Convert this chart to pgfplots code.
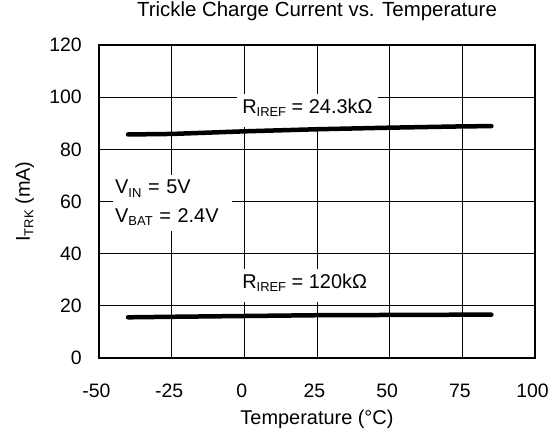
\documentclass[border=0pt]{standalone}
\usepackage{fontspec}
\setmainfont{Liberation Sans}
\usepackage{pgfplots}
\pgfplotsset{compat=1.18}
\newcommand{\sub}[1]{\raisebox{-3.3bp}{\fontsize{13}{13}\selectfont #1}}
\begin{document}
\begin{tikzpicture}
\path[use as bounding box] (-99bp,-72bp) rectangle (459bp,358bp);
\begin{axis}[
  at={(0,0)}, anchor=south west,
  scale only axis, width=436bp, height=313bp,
  xmin=-50, xmax=100, ymin=0, ymax=120,
  xtick={-50,-25,0,25,50,75,100}, ytick={0,20,40,60,80,100,120},
  major tick length=0pt,
  grid=major, major grid style={black, line width=1bp},
  axis line style={black, line width=2bp},
  /pgf/number format/assume math mode=true,
  xticklabel style={font=\fontsize{19.5}{20}\selectfont, anchor=base, yshift=-39.5bp, xshift=-2.5bp},
  yticklabel style={font=\fontsize{19.5}{20}\selectfont, anchor=east, inner sep=0pt, xshift=-17bp},
  every axis title shift=0pt,
  title={Trickle Charge Current vs. Temperature},
  title style={font=\fontsize{20.5}{22}\selectfont, at={(axis description cs:0.5,1.0904)}, anchor=base},
  xlabel={Temperature (°C)},
  xlabel style={font=\fontsize{20}{22}\selectfont, at={(axis description cs:0.5,-0.2109)}, anchor=base},
  ylabel={I\sub{TRK} (mA)},
  ylabel style={font=\fontsize{20}{22}\selectfont, at={(axis description cs:-0.1583,0.5)}, anchor=base},
]
\node[fill=white, anchor=base west, inner xsep=5bp, inner ysep=4bp, text height=15bp, text depth=9.5bp, font=\fontsize{20}{22}\selectfont] at (axis cs:-2.5,93.9) {R\sub{IREF} = 24.3kΩ};
\node[fill=white, anchor=base west, inner xsep=5bp, inner ysep=4bp, text height=15bp, text depth=9.5bp, font=\fontsize{20}{22}\selectfont] at (axis cs:-2.5,26.7) {R\sub{IREF} = 120kΩ};
\node[fill=white, anchor=north west, align=left, text width=115bp, inner xsep=2bp, inner ysep=5bp, font=\fontsize{20}{29}\selectfont] at (axis cs:-45.2,70.2) {V\sub{IN} = 5V\\V\sub{BAT} = 2.4V};
\addplot[black, line width=4.5bp, line cap=round, line join=round] coordinates {(-40,85.7)(-25,85.9)(0,86.9)(25,87.7)(50,88.3)(75,88.8)(85,88.9)};
\addplot[black, line width=4.5bp, line cap=round, line join=round] coordinates {(-40,15.6)(-25,15.8)(0,16.1)(25,16.4)(50,16.5)(75,16.6)(85,16.6)};
\end{axis}
\end{tikzpicture}
\end{document}
